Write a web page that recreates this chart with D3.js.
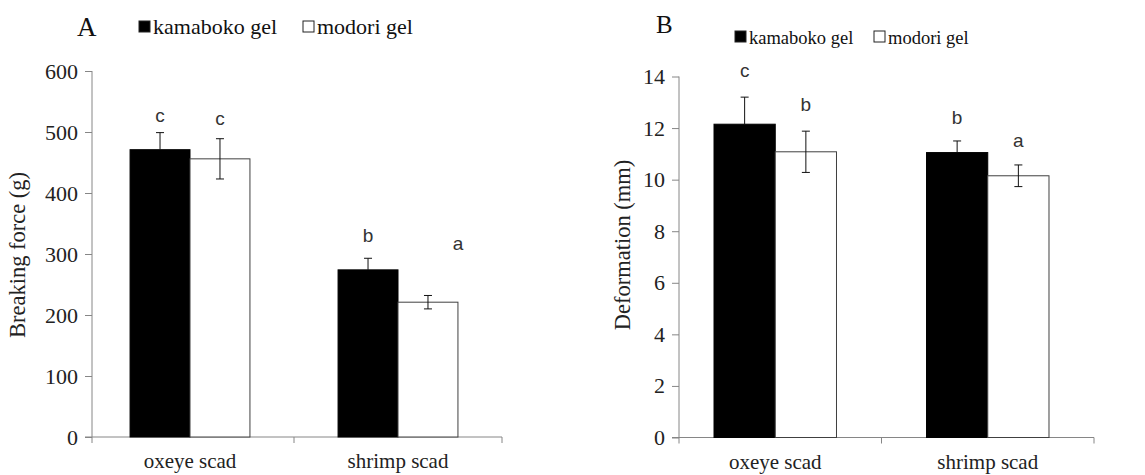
<!DOCTYPE html>
<html lang="en">
<head>
<meta charset="utf-8">
<title>Breaking force and deformation</title>
<script src="https://cdn.jsdelivr.net/npm/d3@7"></script>
<style>
    body { margin: 0; background: #fff; }
    svg { display: block; }
</style>
</head>
<body>
<script>
// categories and series
const categories = ["oxeye scad", "shrimp scad"];
const seriesNames = ["kamaboko gel", "modori gel"];

// panel A: breaking force (g)
const forceTicks = [0, 100, 200, 300, 400, 500, 600];
const forceKamaboko = [471, 274];
const forceModori = [456, 221];
const forceErrKamaboko = [28, 19];
const forceErrModori = [33, 11];
const forceLetters = [["c", "b"], ["c", "a"]];
const forceLetterAt = [[528, 330], [523, 318]];

// panel B: deformation (mm)
const deformTicks = [0, 2, 4, 6, 8, 10, 12, 14];
const deformKamaboko = [12.15, 11.05];
const deformModori = [11.08, 10.15];
const deformErrKamaboko = [1.05, 0.45];
const deformErrModori = [0.8, 0.42];
const deformLetters = [["c", "b"], ["b", "a"]];
const deformLetterAt = [[14.24, 12.42], [12.93, 11.53]];

const SERIF = "'Liberation Serif', 'Times New Roman', serif";
const SANS = "'Liberation Sans', Arial, sans-serif";
const AXIS = "#868686";

const svg = d3.select("body").append("svg")
    .attr("width", 1145)
    .attr("height", 475);

function serifText(sel, size, color) {
    return sel.style("font-family", SERIF)
        .style("font-size", size + "px")
        .style("fill", color);
}

function drawPanel(p) {
    const g = svg.append("g");

    const x = d3.scaleBand().domain(categories).range([p.x0, p.x1]);
    const xs = d3.scaleBand().domain(seriesNames)
        .range([0, x.bandwidth()])
        .paddingOuter(0.735);
    const y = d3.scaleLinear().domain(p.domain).range([p.yBottom, p.yTop]);

    // y axis
    const yAxis = g.append("g")
        .attr("transform", `translate(${p.yAxisX},0)`)
        .call(d3.axisLeft(y).tickValues(p.ticks).tickSize(7).tickPadding(7).tickSizeOuter(0));
    yAxis.attr("font-family", null).attr("font-size", null);
    yAxis.select(".domain").attr("d", `M0,${p.yTop}V${p.yBottom}`).attr("stroke", AXIS);
    yAxis.selectAll(".tick line").attr("stroke", AXIS);
    serifText(yAxis.selectAll(".tick text"), 22, "#222");

    // x axis: line with ticks at band edges
    const xAxis = g.append("g");
    xAxis.append("line")
        .attr("x1", p.yAxisX - 7).attr("x2", p.x1)
        .attr("y1", y(0)).attr("y2", y(0))
        .attr("stroke", AXIS);
    const edges = [p.yAxisX].concat(categories.map(c => x(c) + x.bandwidth()));
    xAxis.selectAll("line.xt").data(edges).join("line")
        .attr("class", "xt")
        .attr("x1", d => d).attr("x2", d => d)
        .attr("y1", y(0)).attr("y2", y(0) + 6)
        .attr("stroke", AXIS);
    serifText(xAxis.selectAll("text").data(categories).join("text"), 21, "#222")
        .attr("x", d => x(d) + x.bandwidth() / 2)
        .attr("y", y(0) + 31)
        .attr("text-anchor", "middle")
        .text(d => d);

    // bars
    const rows = [];
    seriesNames.forEach((s, si) => {
        categories.forEach((c, ci) => {
            rows.push({
                s, si, c, ci,
                v: p.values[si][ci],
                e: p.errors[si][ci],
                letter: p.letters[si][ci],
                letterAt: p.letterAt[si][ci]
            });
        });
    });

    g.selectAll("rect.bar").data(rows).join("rect")
        .attr("class", "bar")
        .attr("x", d => x(d.c) + xs(d.s))
        .attr("y", d => y(d.v))
        .attr("width", xs.bandwidth())
        .attr("height", d => y(0) - y(d.v))
        .attr("fill", d => d.si === 0 ? "#000" : "#fff")
        .attr("stroke", d => d.si === 0 ? "#000" : "#404040")
        .attr("stroke-width", 1);

    // error bars (lower half hidden inside the black bars)
    const cx = d => x(d.c) + xs(d.s) + xs.bandwidth() / 2;
    const eb = g.selectAll("g.eb").data(rows).join("g").attr("class", "eb")
        .attr("stroke", "#111");
    eb.append("line")
        .attr("x1", cx).attr("x2", cx)
        .attr("y1", d => d.si === 0 ? y(d.v) : y(d.v - d.e))
        .attr("y2", d => y(d.v + d.e));
    eb.append("line")
        .attr("x1", d => cx(d) - 4).attr("x2", d => cx(d) + 4)
        .attr("y1", d => y(d.v + d.e)).attr("y2", d => y(d.v + d.e));
    eb.filter(d => d.si === 1).append("line")
        .attr("x1", d => cx(d) - 4).attr("x2", d => cx(d) + 4)
        .attr("y1", d => y(d.v - d.e)).attr("y2", d => y(d.v - d.e));

    // significance letters
    g.selectAll("text.sig").data(rows).join("text")
        .attr("class", "sig")
        .style("font-family", SANS)
        .style("font-size", "19px")
        .style("fill", "#333")
        .attr("x", d => cx(d) + (p.nudge[d.si][d.ci] || 0))
        .attr("y", d => y(d.letterAt))
        .attr("dy", "0.35em")
        .attr("text-anchor", "middle")
        .text(d => d.letter);

    // y label
    serifText(g.append("text"), 22.5, "#222")
        .attr("transform", `translate(${p.labelX},${p.labelY}) rotate(-90)`)
        .attr("text-anchor", "middle")
        .text(p.label);

    // panel letter
    serifText(g.append("text"), p.tagSize, "#111")
        .attr("x", p.tagX).attr("y", p.tagY)
        .text(p.tag);

    // legend
    const lg = g.append("g")
        .attr("transform", `translate(${p.legendX},${p.legendY})`);
    const items = lg.selectAll("g").data(seriesNames).join("g")
        .attr("transform", (d, i) => `translate(${i * p.legendStep},0)`);
    items.append("rect")
        .attr("x", 0).attr("y", -13)
        .attr("width", 11).attr("height", 11)
        .attr("fill", (d, i) => i === 0 ? "#000" : "#fff")
        .attr("stroke", "#222");
    serifText(items.append("text"), p.legendSize, "#111")
        .attr("x", 14).attr("y", 0)
        .text(d => d);
}

drawPanel({
    x0: 86, x1: 502, yAxisX: 92,
    yTop: 71, yBottom: 437,
    domain: [0, 600], ticks: forceTicks,
    values: [forceKamaboko, forceModori],
    errors: [forceErrKamaboko, forceErrModori],
    letters: forceLetters, letterAt: forceLetterAt,
    nudge: [[0, 0], [0, 30]],
    label: "Breaking force (g)", labelX: 25, labelY: 255,
    tag: "A", tagSize: 27, tagX: 77, tagY: 36,
    legendX: 139, legendY: 34, legendStep: 164, legendSize: 22
});

drawPanel({
    x0: 669, x1: 1094, yAxisX: 679,
    yTop: 76.5, yBottom: 437.5,
    domain: [0, 14], ticks: deformTicks,
    values: [deformKamaboko, deformModori],
    errors: [deformErrKamaboko, deformErrModori],
    letters: deformLetters, letterAt: deformLetterAt,
    nudge: [[0, 0], [0, 0]],
    label: "Deformation (mm)", labelX: 630, labelY: 245,
    tag: "B", tagSize: 25, tagX: 656, tagY: 33,
    legendX: 735, legendY: 44, legendStep: 139, legendSize: 18.5
});
</script>
</body>
</html>
